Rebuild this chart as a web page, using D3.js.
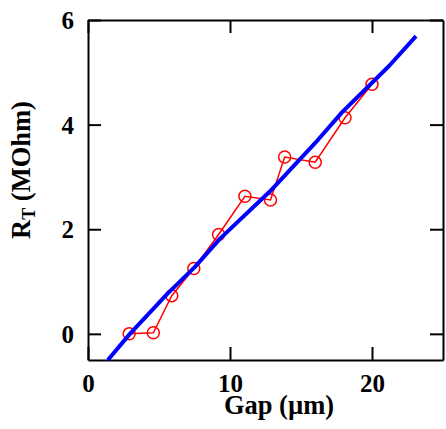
<!DOCTYPE html>
<html>
<head>
<meta charset="utf-8">
<script src="https://cdn.jsdelivr.net/npm/d3@7"></script>
<style>
  html, body { margin: 0; padding: 0; background: #fff; }
  #chart text { font-family: "Liberation Serif", "Times New Roman", serif !important; font-weight: bold; }
</style>
</head>
<body>
<svg id="chart" width="446" height="429"></svg>
<script>
// Measured resistance vs. gap
const gapMeasured = [2.9, 4.6, 5.9, 7.45, 9.2, 11.05, 12.85, 13.85, 16.0, 18.1, 20.0];
const rMeasured   = [0.0, 0.02, 0.73, 1.25, 1.90, 2.63, 2.56, 3.38, 3.28, 4.13, 4.77];

// Model curve
const gapModel = [1.4, 2.95, 5.6, 7.5, 9.3, 12.8, 16.2, 17.9, 21.2, 23.1];
const rModel   = [-0.5, 0.0, 0.77, 1.27, 1.82, 2.72, 3.71, 4.24, 5.12, 5.69];

const xTicks = [0, 10, 20];
const yTicks = [0, 2, 4, 6];

const svg = d3.select("#chart");
const m = { left: 88, right: 443, top: 20, bottom: 360 };

const x = d3.scaleLinear().domain([0, 25]).range([m.left, m.right]);
const y = d3.scaleLinear().domain([-0.5, 6]).range([m.bottom, m.top]);

const tickLen = 13;
const fmt = d3.format("d");

// Axes: ticks inside, mirrored on all sides
const gx = svg.append("g").attr("transform", `translate(0,${m.bottom})`)
  .call(d3.axisBottom(x).tickValues(xTicks).tickFormat(fmt).tickSizeInner(-tickLen).tickSizeOuter(0).tickPadding(14));
const gxTop = svg.append("g").attr("transform", `translate(0,${m.top})`)
  .call(d3.axisTop(x).tickValues(xTicks).tickSizeInner(-tickLen).tickSizeOuter(0).tickFormat(""));
const gy = svg.append("g").attr("transform", `translate(${m.left},0)`)
  .call(d3.axisLeft(y).tickValues(yTicks).tickFormat(fmt).tickSizeInner(-tickLen).tickSizeOuter(0).tickPadding(tickLen + 1));
const gyRight = svg.append("g").attr("transform", `translate(${m.right},0)`)
  .call(d3.axisRight(y).tickValues(yTicks).tickSizeInner(-tickLen).tickSizeOuter(0).tickFormat(""));

[gx, gxTop, gy, gyRight].forEach(g => {
  g.attr("font-family", null).attr("font-size", 25);
  g.select(".domain").attr("stroke", "#000").attr("stroke-width", 2);
  g.selectAll(".tick line").attr("stroke", "#000").attr("stroke-width", 2);
  g.selectAll("text").attr("fill", "#000");
});
gx.selectAll("text").attr("dy", "0.71em");
gy.selectAll("text").attr("dy", "0.34em");

const plot = svg.append("g");

// Measured data: red line with open circles
const line = d3.line().x(d => x(d[0])).y(d => y(d[1]));
const meas = gapMeasured.map((g, i) => [g, rMeasured[i]]);
plot.append("path").datum(meas).attr("d", line)
  .attr("fill", "none").attr("stroke", "#ff0000").attr("stroke-width", 1.5);
plot.selectAll("circle").data(meas).join("circle")
  .attr("cx", d => x(d[0])).attr("cy", d => y(d[1])).attr("r", 6)
  .attr("fill", "none").attr("stroke", "#ff0000").attr("stroke-width", 1.5);

// Model curve: thick blue
const model = gapModel.map((g, i) => [g, rModel[i]]);
plot.append("path").datum(model).attr("d", line)
  .attr("fill", "none").attr("stroke", "#0000ff").attr("stroke-width", 4)
  .attr("stroke-linejoin", "round");

// Axis titles
svg.append("text").attr("x", 279).attr("y", 414).attr("text-anchor", "middle")
  .attr("font-size", 26.5)
  .text("Gap (µm)");

const yt = svg.append("text").attr("transform", "translate(30,170) rotate(-90)")
  .attr("text-anchor", "middle")
  .attr("font-size", 26.5);
yt.append("tspan").text("R");
yt.append("tspan").attr("dy", 5).attr("font-size", 18).text("T");
yt.append("tspan").attr("dy", -5).text(" (MOhm)");
</script>
</body>
</html>
